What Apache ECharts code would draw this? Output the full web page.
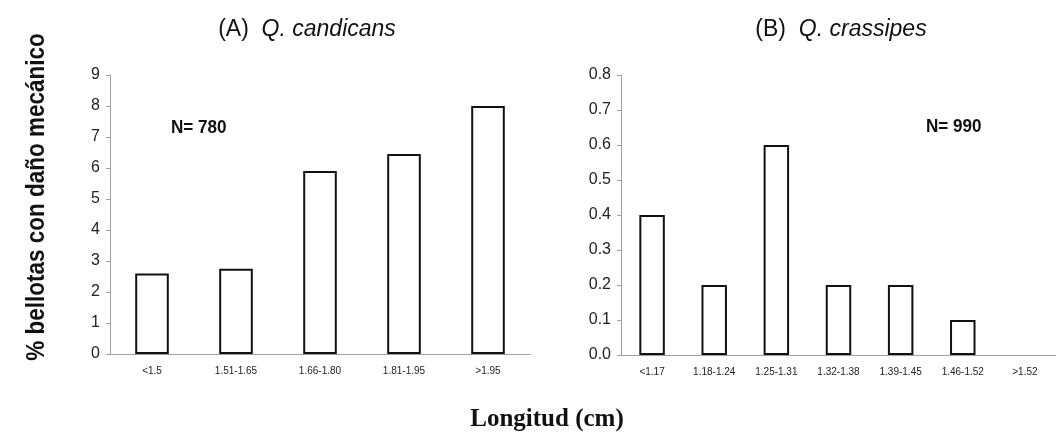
<!DOCTYPE html>
<html>
<head>
<meta charset="utf-8">
<script src="https://cdn.jsdelivr.net/npm/echarts@6/dist/echarts.min.js"></script>
<style>
  html, body { margin: 0; padding: 0; background: #fff; }
  #main { width: 1056px; height: 432px; }
</style>
</head>
<body>
<div id="main"></div>
<script>
// datos
var catsA = ['<1.5', '1.51-1.65', '1.66-1.80', '1.81-1.95', '>1.95'];
var valsA = [2.6, 2.75, 5.9, 6.45, 8.0];
var catsB = ['<1.17', '1.18-1.24', '1.25-1.31', '1.32-1.38', '1.39-1.45', '1.46-1.52', '>1.52'];
var valsB = [0.4, 0.2, 0.6, 0.2, 0.2, 0.1, 0];

var chart = echarts.init(document.getElementById('main'), null, { renderer: 'canvas' });

var sans = 'Liberation Sans, Arial, sans-serif';

var axisGray = { color: '#a0a0a0', width: 1 };

function xAxis(idx, data) {
  return {
    type: 'category',
    gridIndex: idx,
    data: data,
    axisLine: { lineStyle: axisGray },
    axisTick: { lineStyle: axisGray, length: 3 },
    axisLabel: { fontFamily: sans, fontSize: 10, color: '#222', margin: 12, interval: 0 }
  };
}

function yAxis(idx, max, step, fmt) {
  return {
    type: 'value', gridIndex: idx, min: 0, max: max, interval: step,
    splitLine: { show: false },
    axisLine: { show: true, lineStyle: axisGray },
    axisTick: { show: true, lineStyle: axisGray, length: 4 },
    axisLabel: { fontFamily: sans, fontSize: 16, color: '#222', margin: 10, formatter: fmt }
  };
}

var barStyle = { color: '#fff', borderColor: '#111', borderWidth: 2 };

// las barras con valor 0 no se dibujan en el original
function barData(vals) {
  return vals.map(function (v) {
    return v > 0 ? v : { value: v, itemStyle: { borderWidth: 0 } };
  });
}

function titleRich() {
  return {
    fontWeight: 'normal',
    rich: {
      n: { fontFamily: sans, fontSize: 23, fontWeight: 'normal', color: '#111' },
      i: { fontFamily: sans, fontSize: 23, fontWeight: 'normal', fontStyle: 'italic', color: '#111' }
    }
  };
}

var option = {
  animation: false,
  backgroundColor: '#fff',
  title: [
    { text: '{n|(A)  }{i|Q. candicans}', left: 302, top: 13, textAlign: 'center', textStyle: titleRich() },
    { text: '{n|(B)  }{i|Q. crassipes}', left: 836, top: 13, textAlign: 'center', textStyle: titleRich() }
  ],
  grid: [
    { left: 110, top: 75, width: 420, height: 279 },
    { left: 621, top: 75, width: 443, height: 280 }
  ],
  xAxis: [xAxis(0, catsA), xAxis(1, catsB)],
  yAxis: [
    yAxis(0, 9, 1),
    yAxis(1, 0.8, 0.1, function (v) { return v.toFixed(1); })
  ],
  series: [
    { type: 'bar', xAxisIndex: 0, yAxisIndex: 0, data: barData(valsA), barWidth: '40%', itemStyle: barStyle },
    { type: 'bar', xAxisIndex: 1, yAxisIndex: 1, data: barData(valsB), barWidth: '41%', itemStyle: barStyle }
  ],
  graphic: [
    {
      type: 'text', left: 171, top: 118, scaleX: 0.9,
      style: { text: 'N= 780', font: 'bold 19px ' + sans, fill: '#111' }
    },
    {
      type: 'text', left: 926, top: 117, scaleX: 0.9,
      style: { text: 'N= 990', font: 'bold 19px ' + sans, fill: '#111' }
    },
    {
      type: 'text', x: 37, y: 197, rotation: Math.PI / 2, scaleX: 0.9,
      style: {
        text: '% bellotas con daño mecánico',
        font: 'bold 25px ' + sans, fill: '#111',
        align: 'center', verticalAlign: 'middle'
      }
    },
    {
      type: 'text', x: 547, y: 420,
      style: {
        text: 'Longitud (cm)',
        font: 'bold 25px Liberation Serif, Times New Roman, serif', fill: '#111',
        align: 'center', verticalAlign: 'middle'
      }
    }
  ]
};

chart.setOption(option);
</script>
</body>
</html>
